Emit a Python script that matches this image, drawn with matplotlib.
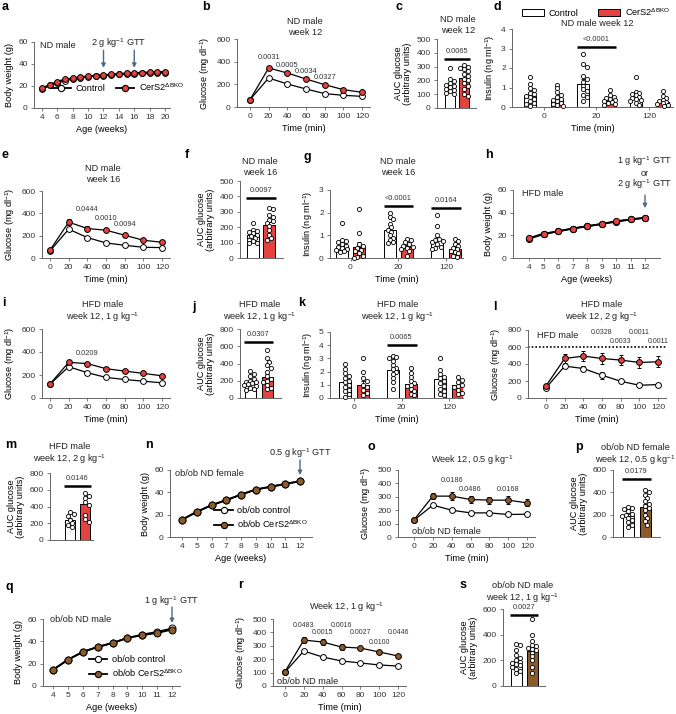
import numpy as np
import matplotlib
matplotlib.use('Agg')
import matplotlib.pyplot as plt
from matplotlib.patches import Patch
from matplotlib.lines import Line2D

# ---------------- data ----------------
weeks_a = [4, 5, 6, 7, 8, 9, 10, 11, 12, 13, 14, 15, 16, 17, 18, 19, 20]
bw_a_ctrl = [17, 20.5, 23, 25, 26.5, 27.5, 28.5, 29, 29.5, 30, 30.5, 31, 31, 31.5, 31.5, 32, 32]
bw_a_ko = [18, 21, 24, 26, 27, 28, 29, 29.5, 30, 30.5, 31, 31.5, 32, 32, 32.5, 32.5, 33]
gtt_a = [12, 16]

time = [0, 20, 40, 60, 80, 100, 120]

glc_b_ctrl = [65, 256, 203, 159, 118, 103, 94]
glc_b_ko = [65, 344, 300, 247, 197, 153, 130]
err_b_ctrl = [6, 12, 10, 9, 8, 7, 7]
err_b_ko = [6, 18, 15, 14, 12, 10, 10]
p_b_t = [20, 40, 60, 80]
p_b = ['0.0031', '0.0005', '0.0034', '0.0327']

auc_c_ctrl = [290, 210, 195, 180, 170, 160, 150, 140, 130, 120, 110, 100]
auc_c_ko = [310, 300, 290, 280, 270, 250, 230, 210, 200, 180, 160, 140, 100, 90]
auc_c_mean = [155, 220]
p_c = '0.0065'

ins_groups = ['0', '20', '120']
ins_d_ctrl = [[1.55, 1.2, 0.95, 0.85, 0.7, 0.65, 0.55, 0.5, 0.4, 0.3, 0.2, 0.15, 0.05],
              [2.7, 2.2, 2.05, 1.6, 1.45, 1.3, 1.1, 0.9, 0.8, 0.6, 0.5, 0.3],
              [1.55, 0.75, 0.7, 0.65, 0.6, 0.5, 0.45, 0.4, 0.35, 0.3, 0.2, 0.1]]
ins_d_ko = [[1.15, 0.95, 0.75, 0.6, 0.5, 0.4, 0.35, 0.3, 0.2, 0.15, 0.1, 0.05],
            [0.85, 0.6, 0.5, 0.45, 0.4, 0.35, 0.3, 0.25, 0.2, 0.15, 0.1],
            [0.8, 0.55, 0.45, 0.35, 0.3, 0.25, 0.2, 0.15, 0.1, 0.05]]
ins_d_ctrl_mean = [0.55, 1.2, 0.45]
ins_d_ko_mean = [0.35, 0.35, 0.25]
p_d = {1: '<0.0001'}

glc_e_ctrl = [63, 258, 183, 135, 114, 96, 93]
glc_e_ko = [70, 321, 264, 249, 204, 159, 141]
err_e_ctrl = [6, 15, 12, 8, 8, 6, 6]
err_e_ko = [8, 28, 20, 20, 15, 12, 12]
p_e_t = [40, 60, 80]
p_e = ['0.0444', '0.0010', '0.0094']

auc_f_ctrl = [230, 185, 175, 170, 160, 150, 140, 130, 120, 110, 100, 95]
auc_f_ko = [325, 320, 280, 265, 250, 240, 230, 210, 180, 150, 130, 120]
auc_f_mean = [150, 215]
p_f = '0.0097'

ins_g_ctrl = [[1.55, 0.8, 0.75, 0.7, 0.6, 0.55, 0.5, 0.45, 0.4, 0.35, 0.3, 0.25],
              [2.0, 1.8, 1.7, 1.5, 1.35, 1.25, 1.15, 1.0, 0.9, 0.8, 0.7, 0.65],
              [1.9, 1.4, 1.0, 0.85, 0.8, 0.75, 0.7, 0.6, 0.5, 0.45, 0.4]]
ins_g_ko = [[2.15, 1.1, 0.6, 0.55, 0.45, 0.35, 0.3, 0.2, 0.1, 0.05, 0.0],
            [0.85, 0.8, 0.7, 0.6, 0.55, 0.5, 0.45, 0.4, 0.3, 0.1],
            [0.85, 0.75, 0.6, 0.55, 0.45, 0.4, 0.3, 0.25, 0.2, 0.1, 0.05]]
ins_g_ctrl_mean = [0.55, 1.25, 0.8]
ins_g_ko_mean = [0.5, 0.5, 0.4]
p_g = {1: '<0.0001', 2: '0.0164'}

weeks_h = [4, 5, 6, 7, 8, 9, 10, 11, 12]
bw_h_ctrl = [17, 21, 23.5, 26, 28, 30, 32, 34, 35.5]
bw_h_ko = [17.5, 21.5, 23.5, 26, 28, 30, 32.5, 34, 35.5]

glc_i_ctrl = [120, 272, 220, 179, 161, 146, 132]
glc_i_ko = [122, 310, 299, 255, 234, 214, 193]
err_i_ctrl = [6, 12, 10, 9, 9, 8, 8]
err_i_ko = [8, 15, 18, 18, 18, 18, 15]
p_i_t = [40]
p_i = ['0.0209']

auc_j_ctrl = [310, 280, 250, 220, 200, 190, 180, 170, 160, 150, 140, 120, 100, 90]
auc_j_ko = [560, 460, 420, 380, 350, 300, 250, 220, 200, 180, 150, 120, 100]
auc_j_mean = [185, 240]
p_j = '0.0307'

ins_k_ctrl = [[2.6, 2.2, 1.9, 1.7, 1.5, 1.3, 1.2, 1.0, 0.8, 0.6, 0.5, 0.3, 0.1],
              [3.2, 3.1, 3.0, 2.8, 2.5, 2.3, 2.2, 2.0, 1.8, 1.5, 1.2, 0.7],
              [3.0, 2.1, 1.8, 1.6, 1.5, 1.3, 1.1, 0.9, 0.7, 0.5, 0.3, 0.2]]
ins_k_ko = [[3.0, 2.0, 1.5, 1.3, 1.0, 0.8, 0.6, 0.4, 0.2],
            [2.3, 1.9, 1.6, 1.3, 1.1, 1.0, 0.9, 0.7, 0.5, 0.3, 0.2],
            [1.6, 1.4, 1.2, 1.0, 0.9, 0.8, 0.6, 0.4, 0.3]]
ins_k_ctrl_mean = [1.25, 2.15, 1.45]
ins_k_ko_mean = [1.0, 1.05, 1.0]
p_k = {1: '0.0065'}

glc_l_ctrl = [118, 375, 347, 268, 197, 150, 158]
glc_l_ko = [142, 465, 493, 465, 446, 418, 426]
err_l_ctrl = [8, 20, 25, 40, 25, 15, 12]
err_l_ko = [10, 50, 55, 60, 60, 60, 65]
p_l_t = [60, 80, 100, 120]
p_l = ['0.0328', '0.0033', '0.0011', '0.0011']
limit_l = 600

auc_m_ctrl = [330, 310, 290, 240, 200, 180, 150]
auc_m_ko = [560, 530, 500, 450, 420, 300, 250, 220]
auc_m_mean = [240, 425]
p_m = '0.0146'

weeks_n = [4, 5, 6, 7, 8, 9, 10, 11, 12]
bw_n_ctrl = [15.5, 22.5, 28.5, 33, 38, 42.5, 45, 47.5, 50]
bw_n_ko = [15.5, 22.5, 28.5, 33, 38, 42.5, 45, 47.5, 50]

glc_o_ctrl = [125, 238, 200, 180, 180, 168, 170]
glc_o_ko = [128, 305, 305, 280, 275, 275, 255]
err_o_ctrl = [8, 12, 12, 10, 10, 10, 10]
err_o_ko = [8, 25, 30, 25, 25, 28, 25]
p_o_t = [40, 60, 100]
p_o = ['0.0186', '0.0486', '0.0168']

auc_p_ctrl = [270, 260, 250, 230, 210, 200, 190, 170, 150, 130, 110, 90]
auc_p_ko = [420, 400, 380, 350, 320, 300, 280, 260, 240, 200, 170, 140, 110]
auc_p_mean = [190, 270]
p_p = '0.0179'

weeks_q = [4, 5, 6, 7, 8, 9, 10, 11, 12]
bw_q_ctrl = [14.5, 23.5, 30.5, 35, 38.5, 43, 46, 48.5, 51.5]
bw_q_ko = [14.5, 23.5, 30.5, 35, 38.5, 43, 45.5, 47.5, 50.5]

glc_r_ctrl = [104, 261, 216, 187, 172, 157, 149]
glc_r_ko = [107, 343, 328, 291, 283, 254, 224]
err_r_ctrl = [6, 10, 10, 8, 8, 8, 8]
err_r_ko = [8, 22, 20, 20, 18, 15, 15]
p_r_t = [20, 40, 60, 80, 100, 120]
p_r = ['0.0483', '0.0015', '0.0016', '0.0027', '0.0100', '0.0446']

auc_s_ctrl = [330, 320, 280, 240, 220, 200, 190, 180, 170, 160, 150, 130, 120, 100]
auc_s_ko = [520, 400, 350, 320, 310, 300, 290, 280, 260, 230, 200, 150, 100]
auc_s_mean = [175, 275]
p_s = '0.0027'

# ---------------- style ----------------
W, H = 676, 714
plt.rcParams['font.family'] = ['Liberation Sans', 'DejaVu Sans']
plt.rcParams['mathtext.fontset'] = 'custom'
plt.rcParams['mathtext.rm'] = 'Liberation Sans'
plt.rcParams['mathtext.it'] = 'Liberation Sans:italic'
plt.rcParams['mathtext.bf'] = 'Liberation Sans:bold'
plt.rcParams['mathtext.default'] = 'regular'

RED = '#E5413F'
BROWN = '#8C5B2B'
ARROW = '#4D6A87'
AXC = '#666666'
TXT = '#333333'
FS = 6.0
LFS = 6.6

fig = plt.figure(figsize=(W / 100, H / 100), dpi=100)


def T(x, y, s, size=LFS, ha='center', va='center', **kw):
    color = kw.pop('color', '#222222')
    ls = kw.pop('linespacing', 1.15)
    fig.text(x / W, 1 - y / H, s, fontsize=size, ha=ha, va=va, color=color,
             linespacing=ls, **kw)


def style(ax):
    for s in ['top', 'right']:
        ax.spines[s].set_visible(False)
    for s in ['left', 'bottom']:
        ax.spines[s].set_color(AXC)
        ax.spines[s].set_linewidth(0.7)
    ax.tick_params(colors=AXC, labelcolor=TXT, labelsize=FS, length=2.5, width=0.6, pad=2)


def make_ax(xa, ya, spine):
    px0, v0, px1, v1 = xa
    pyb, yb, pyt, yt = ya
    l, r = spine
    sx = (px1 - px0) / (v1 - v0)
    sy = (pyb - pyt) / (yt - yb)
    ax = fig.add_axes([l / W, 1 - pyb / H, (r - l) / W, (pyb - pyt) / H])
    ax.set_xlim(v0 + (l - px0) / sx, v0 + (r - px0) / sx)
    ax.set_ylim(yb, yt)
    style(ax)
    ax.sx, ax.sy = sx, sy
    return ax


def lines(ax, x, ctrl, ko, ectrl, eko, color, ms=4.2, lw=0.9, cap=1.5):
    ax.errorbar(x, ctrl, yerr=ectrl, color='k', lw=lw, elinewidth=0.6, capsize=cap, capthick=0.6,
                marker='o', ms=ms, mfc='white', mec='k', mew=0.7, zorder=3, clip_on=False)
    ax.errorbar(x, ko, yerr=eko, color='k', lw=lw, elinewidth=0.6, capsize=cap, capthick=0.6,
                marker='o', ms=ms, mfc=color, mec='k', mew=0.7, zorder=4, clip_on=False)


def swarm(vals, sx, sy, half_px, diam=4.2):
    placed, offs = [], []
    step = diam * 0.45
    kmax = max(1, int(round(half_px / step)))
    cand = [0]
    for k in range(1, kmax + 1):
        cand += [k, -k]
    for v in vals:
        y = v * sy
        best, bestd = 0, -1
        for k in cand:
            x = k * step
            d = min([(x - a) ** 2 + (y - b) ** 2 for a, b in placed] or [1e9])
            if d >= (diam * 0.85) ** 2:
                best = x
                break
            if d > bestd:
                best, bestd = x, d
        placed.append((best, y))
        offs.append(best / sx)
    return offs


def bar(ax, pos, mean, pts, color, width_px):
    w = width_px / ax.sx
    ax.bar(pos, mean, width=w, color=color, edgecolor='k', lw=0.7, zorder=1)
    sem = np.std(pts, ddof=1) / np.sqrt(len(pts))
    ax.errorbar(pos, mean, yerr=[[0], [sem]], color='k', capsize=1.5, elinewidth=0.6, capthick=0.6, zorder=2)
    offs = swarm(pts, ax.sx, ax.sy, width_px / 2 + 0.5)
    ax.scatter(np.array(offs) + pos, pts, s=9, facecolor='white', edgecolor='k', lw=0.6, zorder=3,
               clip_on=False)


def sig(ax, x0, x1, y, txt):
    ax.plot([x0, x1], [y, y], color='k', lw=1.8, solid_capstyle='butt', clip_on=False)
    ax.text((x0 + x1) / 2, y + 4 / ax.sy, txt, fontsize=5.3, ha='center', va='bottom', color=TXT)


def auc_panel(ax, ctrl, ko, means, color, width_px, p, ysig, ylim_top, ystep):
    bar(ax, 0, means[0], ctrl, 'white', width_px)
    bar(ax, 1, means[1], ko, color, width_px)
    hw = width_px / 2 / ax.sx
    sig(ax, -hw - 0.05, 1 + hw + 0.05, ysig, p)
    ax.set_xticks([])
    ax.set_yticks(np.arange(0, ylim_top + 1, ystep))
    ax.set_ylabel('AUC glucose\n(arbitrary units)', fontsize=LFS, labelpad=3, linespacing=1.1)


def ins_panel(ax, ctrl, ko, cm, km, color, off_px, width_px, sigs, ysig, ymax):
    off = off_px / ax.sx
    for g in range(len(ins_groups)):
        bar(ax, g - off, cm[g], ctrl[g], 'white', width_px)
        bar(ax, g + off, km[g], ko[g], color, width_px)
    hw = width_px / 2 / ax.sx
    for g, p in sigs.items():
        sig(ax, g - off - hw, g + off + hw, ysig[g], p)
    ax.set_xticks(range(len(ins_groups)))
    ax.set_xticklabels(ins_groups)
    ax.set_yticks(range(0, ymax + 1))
    ax.set_ylabel('Insulin (ng ml$^{-1}$)', fontsize=LFS, labelpad=3)
    ax.set_xlabel('Time (min)', fontsize=LFS, labelpad=3)


def glc_axes(ax, ymax, ystep):
    ax.set_xticks(time)
    ax.set_yticks(np.arange(0, ymax + 1, ystep))
    ax.set_ylabel('Glucose (mg dl$^{-1}$)', fontsize=LFS, labelpad=3)
    ax.set_xlabel('Time (min)', fontsize=LFS, labelpad=3)


def ptexts(ax, ts, ps, ys, size=5.3, dx=0):
    for t, p, y in zip(ts, ps, ys):
        ax.text(t + dx, y, p, fontsize=size, ha='center', va='center', color=TXT, clip_on=False)


def arrow(ax, x, y0, y1):
    ax.annotate('', xy=(x, y1), xytext=(x, y0),
                arrowprops=dict(arrowstyle='-|>', color=ARROW, lw=1.0, mutation_scale=6,
                                shrinkA=0, shrinkB=0), annotation_clip=False)


def bw_legend(ax, color, labels, **kw):
    hs = [Line2D([0], [0], color='k', lw=1.3, marker='o', ms=4.5, mfc='white', mec='k', mew=0.8),
          Line2D([0], [0], color='k', lw=1.3, marker='o', ms=4.5, mfc=color, mec='k', mew=0.8)]
    ax.legend(hs, labels, frameon=False, fontsize=LFS, handlelength=2.0, handletextpad=0.5,
              borderpad=0, **kw)


# ---------------- panel letters ----------------
letters = {'a': (2, 7), 'b': (202, 7), 'c': (395, 7), 'd': (493, 7), 'e': (2, 155), 'f': (185, 155),
           'g': (303, 157), 'h': (485, 155), 'i': (2, 303), 'j': (192, 307), 'k': (298, 303),
           'l': (493, 307), 'm': (5, 445), 'n': (145, 445), 'o': (367, 447), 'p': (575, 447),
           'q': (5, 587), 'r': (238, 585), 's': (460, 585)}
for k, (x, y) in letters.items():
    T(x, y, k, size=9, ha='left', weight='bold', color='black')

# ---------------- a ----------------
ax = make_ax((42, 4, 165, 20), (108, 0, 42, 60), (34, 170))
ax.plot(weeks_a, bw_a_ctrl, color='k', lw=1.3, marker='o', ms=4.2, mfc='white', mec='k', mew=0.7, zorder=3)
ax.plot(weeks_a, bw_a_ko, color='k', lw=1.3, marker='o', ms=4.2, mfc=RED, mec='k', mew=0.7, zorder=4)
ax.set_xticks(range(4, 21, 2))
ax.set_yticks([0, 20, 40, 60])
ax.set_ylabel('Body weight (g)', fontsize=LFS, labelpad=3)
ax.set_xlabel('Age (weeks)', fontsize=LFS, labelpad=3)
for wk in gtt_a:
    arrow(ax, wk, 52.5, 36.5)
ax.text(14, 59, '2 g kg$^{-1}$ GTT', fontsize=LFS, ha='center', va='center', color='#222222')
ax.text(3.7, 57, 'ND male', fontsize=LFS, ha='left', va='center', color='#222222')
bw_legend(ax, RED, ['Control', 'CerS2$^{\\Delta BKO}$'], loc='lower left', bbox_to_anchor=(0.1, 0.16),
          ncol=2, columnspacing=1.2)

# ---------------- b ----------------
ax = make_ax((250, 0, 362, 120), (107, 0, 39, 600), (237, 370))
lines(ax, time, glc_b_ctrl, glc_b_ko, err_b_ctrl, err_b_ko, RED)
glc_axes(ax, 600, 200)
ptexts(ax, p_b_t, p_b, [441, 370, 309, 256])
T(305, 27, 'ND male\nweek 12')

# ---------------- c ----------------
ax = make_ax((450, 0, 464, 1), (108, 0, 39, 500), (437, 476))
auc_panel(ax, auc_c_ctrl, auc_c_ko, auc_c_mean, RED, 10, p_c, 352, 500, 100)
T(458, 25, 'ND male\nweek 12')

# ---------------- d ----------------
ax = make_ax((543.5, 0, 649, 2), (107, 0, 29, 4), (512, 673))
ins_panel(ax, ins_d_ctrl, ins_d_ko, ins_d_ctrl_mean, ins_d_ko_mean, RED, 13.5, 12, p_d, {1: 3.1}, 4)
T(597, 24, 'ND male week 12')
ax.legend([Patch(facecolor='white', edgecolor='k', lw=0.7), Patch(facecolor=RED, edgecolor='k', lw=0.7)],
          ['Control', 'CerS2$^{\\Delta BKO}$'], ncol=2, frameon=False, fontsize=LFS, handlelength=2.4,
          handleheight=0.8, handletextpad=0.5, columnspacing=2.2, borderpad=0,
          loc='center left', bbox_to_anchor=(517 / W, 1 - 12 / H), bbox_transform=fig.transFigure)

# ---------------- e ----------------
ax = make_ax((50, 0, 162, 120), (258, 0, 191, 600), (42, 170))
lines(ax, time, glc_e_ctrl, glc_e_ko, err_e_ctrl, err_e_ko, RED)
glc_axes(ax, 600, 200)
ptexts(ax, p_e_t, p_e, [430, 358, 296])
T(103, 174, 'ND male\nweek 16')

# ---------------- f ----------------
ax = make_ax((253, 0, 269, 1), (258, 0, 181, 500), (240, 283))
auc_panel(ax, auc_f_ctrl, auc_f_ko, auc_f_mean, RED, 12, p_f, 387, 500, 100)
T(260, 167, 'ND male\nweek 16')

# ---------------- g ----------------
ax = make_ax((350.5, 0, 446, 2), (258, 0, 190, 3), (330, 463))
ins_panel(ax, ins_g_ctrl, ins_g_ko, ins_g_ctrl_mean, ins_g_ko_mean, RED, 8.7, 12, p_g, {1: 2.3, 2: 2.2}, 3)
T(398, 167, 'ND male\nweek 16')

# ---------------- h ----------------
ax = make_ax((529, 4, 645, 12), (258, 0, 190, 60), (513, 660))
ax.plot(weeks_h, bw_h_ctrl, color='k', lw=1.3, marker='o', ms=4.5, mfc='white', mec='k', mew=0.7, zorder=3)
ax.plot(weeks_h, bw_h_ko, color='k', lw=1.3, marker='o', ms=4.5, mfc=RED, mec='k', mew=0.7, zorder=4)
ax.set_xticks(weeks_h)
ax.set_yticks([0, 20, 40, 60])
ax.set_ylabel('Body weight (g)', fontsize=LFS, labelpad=3)
ax.set_xlabel('Age (weeks)', fontsize=LFS, labelpad=3)
arrow(ax, 12, 55.5, 44)
T(522, 193, 'HFD male', ha='left')
T(645, 173, '1 g kg$^{-1}$ GTT\nor\n2 g kg$^{-1}$ GTT', linespacing=1.0)

# ---------------- i ----------------
ax = make_ax((50, 0, 162, 120), (398, 0, 329, 600), (42, 170))
lines(ax, time, glc_i_ctrl, glc_i_ko, err_i_ctrl, err_i_ko, RED)
glc_axes(ax, 600, 200)
ptexts(ax, p_i_t, p_i, [391])
T(103, 312, 'HFD male\nweek 12, 1 g kg$^{-1}$')

# ---------------- j ----------------
ax = make_ax((250, 0, 267, 1), (398, 0, 329, 800), (240, 281))
auc_panel(ax, auc_j_ctrl, auc_j_ko, auc_j_mean, RED, 11, p_j, 655, 800, 200)
T(260, 312, 'HFD male\nweek 12, 1 g kg$^{-1}$')

# ---------------- k ----------------
ax = make_ax((354, 0, 449, 2), (398, 0, 332, 5), (330, 463))
ins_panel(ax, ins_k_ctrl, ins_k_ko, ins_k_ctrl_mean, ins_k_ko_mean, RED, 9, 12, p_k, {1: 4.0}, 5)
T(398, 312, 'HFD male\nweek 12, 1 g kg$^{-1}$')

# ---------------- l ----------------
ax = make_ax((546, 0, 658, 120), (398, 0, 330, 800), (528, 666))
lines(ax, time, glc_l_ctrl, glc_l_ko, err_l_ctrl, err_l_ko, RED)
ax.axhline(limit_l, color='k', lw=1.2, ls=(0, (1, 1.2)), zorder=1)
glc_axes(ax, 800, 200)
ptexts(ax, p_l_t, p_l, [765, 670, 765, 670], size=5.0)
T(537, 335, 'HFD male', ha='left')
T(602, 312, 'HFD male\nweek 12, 2 g kg$^{-1}$')

# ---------------- m ----------------
ax = make_ax((70, 0, 85, 1), (540, 0, 473, 800), (50, 93))
auc_panel(ax, auc_m_ctrl, auc_m_ko, auc_m_mean, RED, 10, p_m, 650, 800, 200)
T(70, 454, 'HFD male\nweek 12, 2 g kg$^{-1}$')

# ---------------- n ----------------
ax = make_ax((182, 4, 300, 12), (537, 0, 470, 60), (170, 312))
ax.plot(weeks_n, bw_n_ctrl, color='k', lw=1.3, marker='o', ms=5, mfc='white', mec='k', mew=0.7, zorder=3)
ax.plot(weeks_n, bw_n_ko, color='k', lw=1.3, marker='o', ms=5, mfc=BROWN, mec='k', mew=0.7, zorder=4)
ax.set_xticks(weeks_n)
ax.set_yticks([0, 20, 40, 60])
ax.set_ylabel('Body weight (g)', fontsize=LFS, labelpad=3)
ax.set_xlabel('Age (weeks)', fontsize=LFS, labelpad=3)
arrow(ax, 12, 69, 55.5)
T(175, 473, 'ob/ob ND female', ha='left')
T(300, 453, '0.5 g kg$^{-1}$ GTT')
bw_legend(ax, BROWN, ['ob/ob control', 'ob/ob CerS2$^{\\Delta BKO}$'], loc='lower left',
          bbox_to_anchor=(0.28, 0.03), ncol=1, labelspacing=0.4)

# ---------------- o ----------------
ax = make_ax((414, 0, 527, 120), (537, 0, 470, 500), (398, 535))
lines(ax, time, glc_o_ctrl, glc_o_ko, err_o_ctrl, err_o_ko, BROWN)
glc_axes(ax, 500, 100)
ptexts(ax, p_o_t, p_o, [425, 358, 358])
T(412, 531, 'ob/ob ND female', ha='left')
T(472, 460, 'Week 12, 0.5 g kg$^{-1}$')

# ---------------- p ----------------
ax = make_ax((628, 0, 645, 1), (537, 0, 470, 600), (613, 660))
auc_panel(ax, auc_p_ctrl, auc_p_ko, auc_p_mean, BROWN, 11, p_p, 516, 600, 200)
T(635, 455, 'ob/ob ND female\nweek 12, 0.5 g kg$^{-1}$')

# ---------------- q ----------------
ax = make_ax((53, 4, 172, 12), (686, 0, 619, 60), (43, 180))
ax.plot(weeks_q, bw_q_ctrl, color='k', lw=1.3, marker='o', ms=5, mfc='white', mec='k', mew=0.7, zorder=3)
ax.plot(weeks_q, bw_q_ko, color='k', lw=1.3, marker='o', ms=5, mfc=BROWN, mec='k', mew=0.7, zorder=4)
ax.set_xticks(weeks_q)
ax.set_yticks([0, 20, 40, 60])
ax.set_ylabel('Body weight (g)', fontsize=LFS, labelpad=3)
ax.set_xlabel('Age (weeks)', fontsize=LFS, labelpad=3)
arrow(ax, 12, 70.7, 56.4)
T(50, 620, 'ob/ob ND male', ha='left')
T(172, 601, '1 g kg$^{-1}$ GTT')
bw_legend(ax, BROWN, ['ob/ob control', 'ob/ob CerS2$^{\\Delta BKO}$'], loc='lower left',
          bbox_to_anchor=(0.3, 0.03), ncol=1, labelspacing=0.4)

# ---------------- r ----------------
ax = make_ax((285, 0, 398, 120), (686, 0, 619, 500), (273, 406))
lines(ax, time, glc_r_ctrl, glc_r_ko, err_r_ctrl, err_r_ko, BROWN)
glc_axes(ax, 500, 100)
ptexts(ax, p_r_t, p_r, [455, 396, 455, 396, 321, 396], size=5.0)
T(277, 681, 'ob/ob ND male', ha='left')
T(347, 607, 'Week 12, 1 g kg$^{-1}$')

# ---------------- s ----------------
ax = make_ax((516, 0, 532, 1), (686, 0, 609, 600), (503, 545))
auc_panel(ax, auc_s_ctrl, auc_s_ko, auc_s_mean, BROWN, 11, p_s, 556, 600, 200)
T(523, 593, 'ob/ob ND male\nweek 12, 1 g kg$^{-1}$')

fig.savefig('out.png', dpi=100)
